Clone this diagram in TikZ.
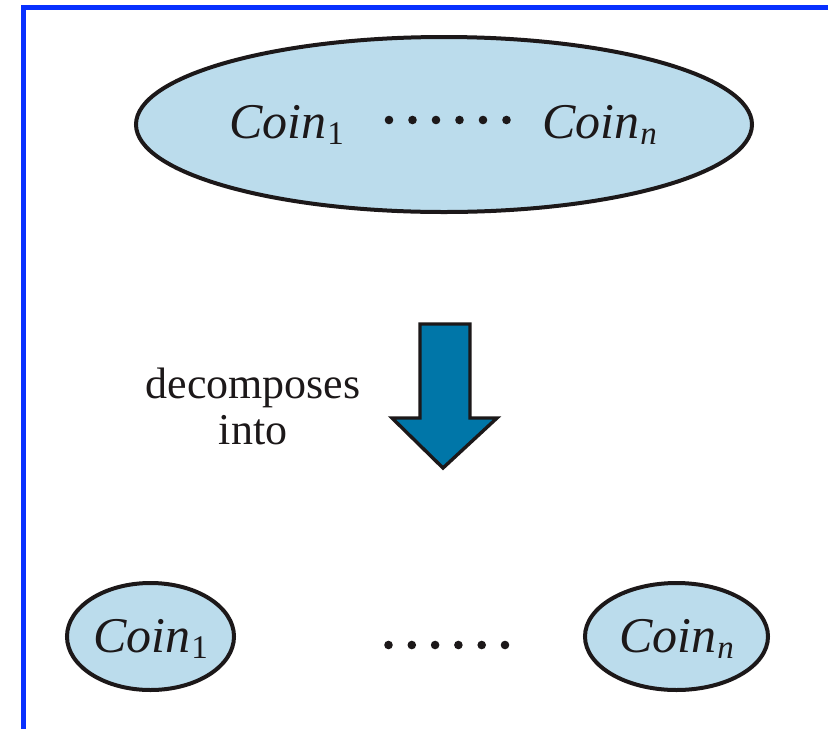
\documentclass[tikz,border=0pt]{standalone}
\usepackage{fontspec}
\setmainfont{Liberation Serif}
\usetikzlibrary{shapes.geometric}

\definecolor{framebl}{RGB}{8,48,255}
\definecolor{coinfill}{RGB}{187,220,236}
\definecolor{arrowfill}{RGB}{0,118,168}
\definecolor{ink}{RGB}{28,24,25}

% coin label with a lowered subscript
\newcommand\coinlbl[1]{\textit{Coin}\kern1pt\raisebox{-6.5pt}{\fontsize{33}{33}\selectfont #1}}

\tikzset{
  coinset/.style={ellipse, draw=ink, line width=4pt, fill=coinfill, inner sep=0pt},
  bigtext/.style={font=\fontsize{50}{54}\selectfont, text=ink, inner sep=0pt},
  labeltext/.style={font=\fontsize{44}{46}\selectfont, text=ink, align=center, inner sep=0pt},
  dotmark/.style={fill=ink, draw=none},
}

\begin{document}
\begin{tikzpicture}[x=1pt, y=-1pt]
  \useasboundingbox (0,0) rectangle (828,729);

  % frame on the top and left sides
  \draw[framebl, line width=5.5pt] (828,7.25) -- (23.5,7.25) -- (23.5,729);

  % whole set of coins
  \node[coinset, minimum width=616pt, minimum height=175pt] (all) at (444,124.5) {};
  \node[bigtext, anchor=base west] (c1) at (229,138) {\coinlbl{1}};
  \node[bigtext, anchor=base west] (cn) at (542,138) {\coinlbl{\textit{n}}};
  \foreach \i in {0,...,5}
    \fill[dotmark] (389+23.5*\i,120) circle (4.3pt);

  % decomposition arrow
  \draw[ink, line width=3.4pt, line join=miter, fill=arrowfill]
    (420,324) -- (470,324) -- (470,418) -- (497,418) -- (443,468)
    -- (392,418) -- (420,418) -- cycle;
  \node[labeltext, anchor=base] (lbl) at (253,444) {decomposes\\into};

  % single coins
  \node[coinset, minimum width=167pt, minimum height=107pt] (one) at (150.5,636.5) {};
  \node[coinset, minimum width=183pt, minimum height=107pt] (last) at (676.5,636.5) {};
  \node[bigtext, anchor=base] (t1) at (150.5,652) {\coinlbl{1}};
  \node[bigtext, anchor=base] (tn) at (676.5,652) {\coinlbl{\textit{n}}};
  \foreach \i in {0,...,5}
    \fill[dotmark] (388.5+23.3*\i,645) circle (4.3pt);
\end{tikzpicture}
\end{document}
